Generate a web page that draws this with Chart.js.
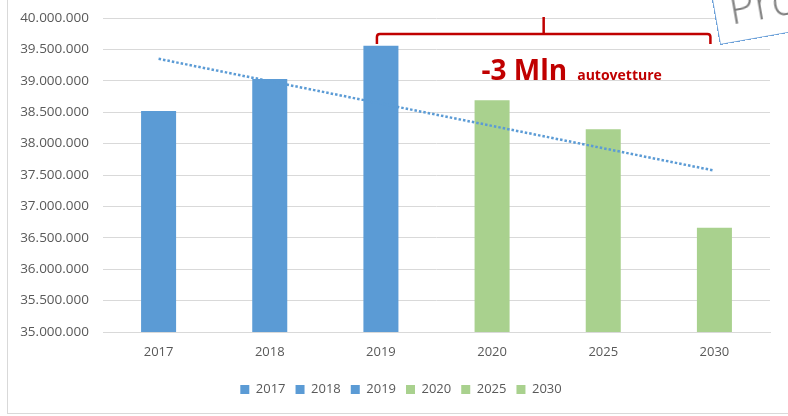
<!DOCTYPE html>
<html>
<head>
<meta charset="utf-8">
<script src="https://cdn.jsdelivr.net/npm/chart.js@4"></script>
<style>
  html, body { margin: 0; padding: 0; background: #fff; overflow: hidden; }
  #wrap { position: relative; width: 788px; height: 416px; overflow: hidden; }
  #frame { position: absolute; left: 7px; top: -10px; width: 900px; height: 424px;
           box-sizing: border-box; border: 1px solid #d9d9d9; }
  canvas { position: absolute; left: 0; top: 0; }
  #note { position: absolute; left: 720px; top: -75px; width: 220px; height: 120px;
          box-sizing: border-box; border: 1.5px solid #6a9fd8; background: #fff;
          transform-origin: 0 100%; transform: rotate(-10deg);
          font-family: "Open Sans", sans-serif; font-weight: 300; font-size: 44px;
          color: #7f7f7f; }
  #note span { position: absolute; left: 14px; bottom: 12px; line-height: 1; }
</style>
</head>
<body>
<div id="wrap">
  <div id="frame"></div>
  <canvas id="chart" width="788" height="416"></canvas>
  <div id="note"><span>Pro</span></div>
</div>
<script>
// --- data ---
const years = ['2017', '2018', '2019', '2020', '2025', '2030'];
const autovetture = [38520000, 39030000, 39560000, 38690000, 38230000, 36660000];
const trendEnds = [39350000, 37570000]; // dotted trend, first and last year
const yMin = 35000000;
const yMax = 40000000;
const yStep = 500000;
const calloutBig = '-3 Mln';
const calloutSmall = 'autovetture';

const blue = '#5B9BD5';
const green = '#A9D18E';
const barColors = years.map((y, i) => i < 3 ? blue : green);

// thousands with dots, like the italian excel export
const fmt = v => String(v).replace(/\B(?=(\d{3})+(?!\d))/g, '.');

const trendData = years.map((y, i) => i === 0 ? trendEnds[0] : (i === years.length - 1 ? trendEnds[1] : null));

// red bracket over 2019..2030 with the -3 Mln text
const bracketPlugin = {
    id: 'bracket',
    afterLayout(chart) {
        // excel centres the legend on the whole frame, not the plot
        chart.legend.left += 12;
        chart.legend.right += 12;
    },
    afterDraw(chart) {
        const { ctx, chartArea, scales: { x } } = chart;
        const xL = x.getPixelForValue(2) - 4;
        const xR = x.getPixelForValue(5) - 4;
        const xC = (xL + xR) / 2;
        const yH = chartArea.top + 16;
        const yEnd = chartArea.top + 26;
        const yTop = chartArea.top - 1;
        const r = 3;
        ctx.save();
        ctx.strokeStyle = '#C00000';
        ctx.lineWidth = 2.5;
        ctx.beginPath();
        ctx.moveTo(xL, yEnd);
        ctx.lineTo(xL, yH + r);
        ctx.quadraticCurveTo(xL, yH, xL + r, yH);
        ctx.lineTo(xR - r, yH);
        ctx.quadraticCurveTo(xR, yH, xR, yH + r);
        ctx.lineTo(xR, yEnd);
        ctx.moveTo(xC, yH);
        ctx.lineTo(xC, yTop);
        ctx.stroke();

        ctx.fillStyle = '#C00000';
        ctx.textBaseline = 'alphabetic';
        ctx.font = 'bold 28px "Open Sans"';
        const w1 = ctx.measureText(calloutBig).width;
        ctx.font = 'bold 14px "Open Sans"';
        const w2 = ctx.measureText(calloutSmall).width;
        const gap = 10;
        const start = xC + 28 - (w1 + gap + w2) / 2;
        const base = chartArea.top + 62;
        ctx.font = 'bold 28px "Open Sans"';
        ctx.fillText(calloutBig, start, base);
        ctx.font = 'bold 14px "Open Sans"';
        ctx.fillText(calloutSmall, start + w1 + gap, base);
        ctx.restore();
    }
};

const ctx = document.getElementById('chart').getContext('2d');
new Chart(ctx, {
    type: 'bar',
    data: {
        labels: years,
        datasets: [
            {
                type: 'line',
                label: 'Tendenza',
                data: trendData,
                spanGaps: true,
                borderColor: blue,
                borderWidth: 2.5,
                borderDash: [2.5, 2],
                pointRadius: 0,
                fill: false,
                order: 0
            },
            {
                label: 'Autovetture',
                data: autovetture,
                backgroundColor: barColors,
                borderWidth: 0,
                barPercentage: 0.315,
                categoryPercentage: 1,
                order: 1
            }
        ]
    },
    options: {
        responsive: false,
        animation: false,
        layout: { padding: { left: 8, right: 18, top: 18, bottom: 10 } },
        scales: {
            x: {
                grid: { display: false, drawTicks: false },
                border: { color: '#d9d9d9' },
                ticks: { color: '#595959', font: { family: 'Open Sans', size: 13 }, padding: 12 },
                afterFit: s => { s.height = 41; }
            },
            y: {
                min: yMin,
                max: yMax,
                grid: { color: '#d9d9d9', drawTicks: false },
                border: { display: false },
                ticks: {
                    stepSize: yStep,
                    color: '#595959',
                    font: { family: 'Open Sans', size: 13.5 },
                    padding: 14,
                    callback: v => fmt(v)
                },
                afterFit: s => { s.width = 95; s.paddingTop = 0; s.paddingBottom = 0; }
            }
        },
        plugins: {
            tooltip: { enabled: false },
            legend: {
                position: 'bottom',
                onClick: () => {},
                labels: {
                    color: '#595959',
                    font: { family: 'Open Sans', size: 13 },
                    boxWidth: 9,
                    boxHeight: 9,
                    padding: 10,
                    generateLabels: () => years.map((y, i) => ({
                        text: y,
                        fillStyle: barColors[i],
                        strokeStyle: barColors[i],
                        lineWidth: 0,
                        fontColor: '#595959',
                        datasetIndex: 1
                    }))
                }
            }
        }
    },
    plugins: [bracketPlugin]
});
</script>
</body>
</html>
